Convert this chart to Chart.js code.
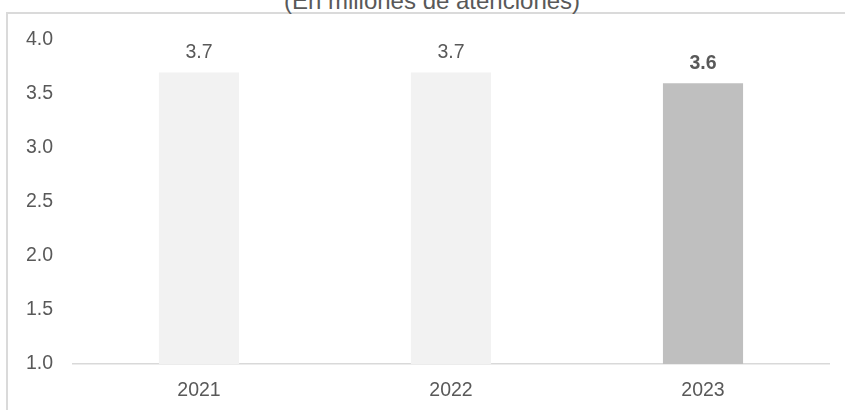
<!DOCTYPE html>
<html>
<head>
<meta charset="utf-8">
<script src="https://cdn.jsdelivr.net/npm/chart.js@4.4.1/dist/chart.umd.min.js"></script>
<style>
  html, body { margin: 0; padding: 0; background: #ffffff; overflow: hidden; }
  #wrap { position: relative; width: 845px; height: 410px; }
  #frame { position: absolute; left: 6px; top: 12px; width: 900px; height: 500px;
           border-left: 2px solid #dadada; border-top: 2px solid #dadada; }
  #title { position: absolute; left: 0; width: 864px; top: -11px; text-align: center;
           font-family: "Liberation Sans", Arial, sans-serif; font-size: 24px; line-height: 24px;
           color: #595959; white-space: nowrap; }
  #c { position: absolute; left: 0; top: 0; }
</style>
</head>
<body>
<div id="wrap">
  <div id="frame"></div>
  <div id="title">(En millones de atenciones)</div>
  <canvas id="c" width="845" height="410"></canvas>
</div>
<script>
const categories = ["2021", "2022", "2023"];
const values = [3.7, 3.7, 3.6];
const valueLabels = ["3.7", "3.7", "3.6"];
const boldLabel = [false, false, true];
const barColors = ["#f2f2f2", "#f2f2f2", "#bfbfbf"];

const FONT = "'Liberation Sans', Arial, sans-serif";
const TEXT = "#595959";

const labelPlugin = {
  id: "barLabels",
  afterDatasetsDraw(chart) {
    const ctx = chart.ctx;
    const meta = chart.getDatasetMeta(0);
    ctx.save();
    ctx.fillStyle = TEXT;
    ctx.textAlign = "center";
    ctx.textBaseline = "alphabetic";
    meta.data.forEach((bar, i) => {
      ctx.font = (boldLabel[i] ? "bold " : "") + "19.5px " + FONT;
      ctx.fillText(valueLabels[i], bar.x, bar.y - 14);
    });
    ctx.restore();
  }
};

new Chart(document.getElementById("c"), {
  type: "bar",
  data: {
    labels: categories,
    datasets: [{
      data: values,
      backgroundColor: barColors,
      borderWidth: 0,
      categoryPercentage: 1,
      barPercentage: 0.318
    }]
  },
  options: {
    responsive: false,
    animation: false,
    events: [],
    layout: { padding: { left: 0, right: 16, top: 40, bottom: 0 } },
    plugins: { legend: { display: false }, tooltip: { enabled: false }, title: { display: false } },
    scales: {
      x: {
        grid: { display: false, drawTicks: false },
        border: { display: true, color: "#d9d9d9", width: 1.5 },
        ticks: { color: TEXT, font: { family: FONT, size: 19.5 }, padding: 15 },
        afterFit(scale) { scale.height = 46; }
      },
      y: {
        min: 1, max: 4,
        grid: { display: false, drawTicks: false },
        border: { display: false },
        ticks: {
          stepSize: 0.5, color: TEXT, font: { family: FONT, size: 19.5 }, padding: 20,
          callback: (v) => Number(v).toFixed(1)
        },
        afterFit(scale) { scale.width = 73; }
      }
    }
  },
  plugins: [labelPlugin]
});
</script>
</body>
</html>
